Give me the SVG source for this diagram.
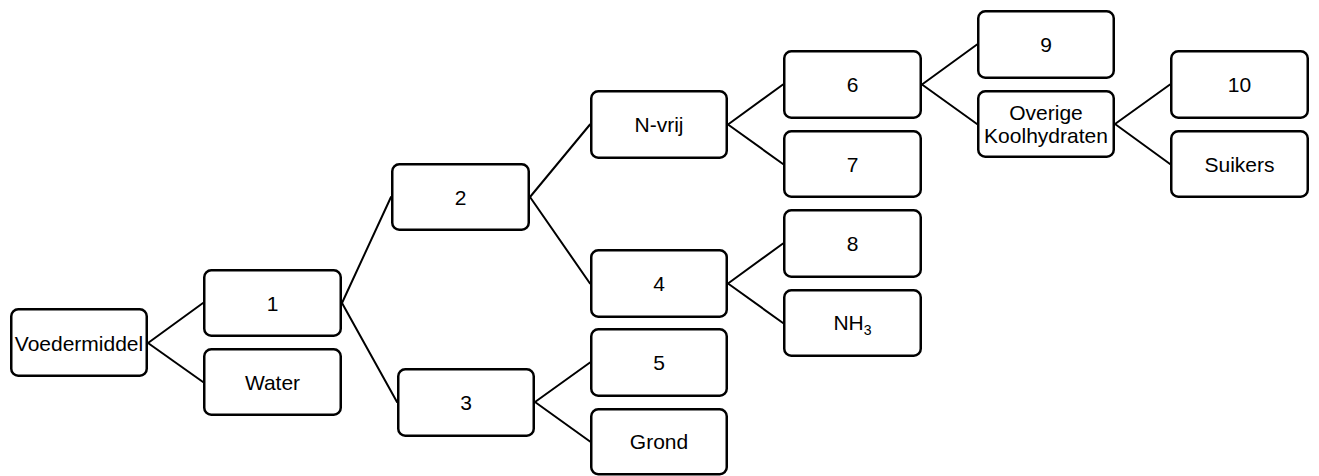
<svg xmlns="http://www.w3.org/2000/svg" width="1319" height="476" viewBox="0 0 1319 476">
  <style>
    .box rect { fill: #ffffff; stroke: #000000; stroke-width: 2.5; }
    .box text { font-family: "Liberation Sans", Arial, sans-serif; font-size: 21px; fill: #000000; text-anchor: middle; }
    #connectors line { stroke: #000000; stroke-width: 2; stroke-linecap: round; }
  </style>
  <rect x="0" y="0" width="1319" height="476" fill="#ffffff"/>

  <!-- connectors: parent right-middle to child left-middle -->
  <g id="connectors">
    <line x1="148" y1="343" x2="203" y2="303"/>
    <line x1="148" y1="343" x2="203" y2="382"/>
    <line x1="342" y1="303" x2="391" y2="197"/>
    <line x1="342" y1="303" x2="397" y2="402"/>
    <line x1="530" y1="197" x2="590" y2="124.5"/>
    <line x1="530" y1="197" x2="590" y2="283.5"/>
    <line x1="535" y1="402" x2="590" y2="362.5"/>
    <line x1="535" y1="402" x2="590" y2="441.5"/>
    <line x1="728" y1="124.5" x2="783" y2="84.5"/>
    <line x1="728" y1="124.5" x2="783" y2="164"/>
    <line x1="728" y1="283.5" x2="783" y2="243.5"/>
    <line x1="728" y1="283.5" x2="783" y2="323"/>
    <line x1="922" y1="84.5" x2="977" y2="44.5"/>
    <line x1="922" y1="84.5" x2="977" y2="124"/>
    <line x1="1115" y1="124" x2="1170" y2="84.5"/>
    <line x1="1115" y1="124" x2="1170" y2="164"/>
  </g>

  <g id="voedermiddel" class="box">
    <rect x="11.25" y="309.25" width="135.5" height="66.5" rx="7"/>
    <text x="79" y="350.5">Voedermiddel</text>
  </g>
  <g id="n1" class="box">
    <rect x="204.25" y="270.25" width="136.5" height="65.5" rx="7"/>
    <text x="272.5" y="310.5">1</text>
  </g>
  <g id="water" class="box">
    <rect x="204.25" y="349.25" width="136.5" height="65.5" rx="7"/>
    <text x="272.5" y="390">Water</text>
  </g>
  <g id="n2" class="box">
    <rect x="392.25" y="164.25" width="136.5" height="65.5" rx="7"/>
    <text x="460.5" y="204.5">2</text>
  </g>
  <g id="n3" class="box">
    <rect x="398.25" y="369.25" width="135.5" height="66.5" rx="7"/>
    <text x="466" y="409.5">3</text>
  </g>
  <g id="nvrij" class="box">
    <rect x="591.25" y="91.25" width="135.5" height="66.5" rx="7"/>
    <text x="659" y="132">N-vrij</text>
  </g>
  <g id="n4" class="box">
    <rect x="591.25" y="250.25" width="135.5" height="66.5" rx="7"/>
    <text x="659" y="291">4</text>
  </g>
  <g id="n5" class="box">
    <rect x="591.25" y="329.25" width="135.5" height="66.5" rx="7"/>
    <text x="659" y="370">5</text>
  </g>
  <g id="grond" class="box">
    <rect x="591.25" y="409.25" width="135.5" height="65" rx="7"/>
    <text x="659" y="449">Grond</text>
  </g>
  <g id="n6" class="box">
    <rect x="784.25" y="51.25" width="136.5" height="66.5" rx="7"/>
    <text x="852.5" y="92">6</text>
  </g>
  <g id="n7" class="box">
    <rect x="784.25" y="131.25" width="136.5" height="65.5" rx="7"/>
    <text x="852.5" y="171.5">7</text>
  </g>
  <g id="n8" class="box">
    <rect x="784.25" y="210.25" width="136.5" height="66.5" rx="7"/>
    <text x="852.5" y="251">8</text>
  </g>
  <g id="nh3" class="box">
    <rect x="784.25" y="290.25" width="136.5" height="65.5" rx="7"/>
    <text x="852.5" y="330">NH<tspan font-size="14" dy="5">3</tspan></text>
  </g>
  <g id="n9" class="box">
    <rect x="978.25" y="11.25" width="135.5" height="66.5" rx="7"/>
    <text x="1046" y="52">9</text>
  </g>
  <g id="overige" class="box">
    <rect x="978.25" y="91.25" width="135.5" height="65.5" rx="7"/>
    <text x="1046" y="120">Overige</text>
    <text x="1046" y="142.5">Koolhydraten</text>
  </g>
  <g id="n10" class="box">
    <rect x="1171.25" y="51.25" width="136.5" height="66.5" rx="7"/>
    <text x="1239.5" y="92">10</text>
  </g>
  <g id="suikers" class="box">
    <rect x="1171.25" y="131.25" width="136.5" height="65.5" rx="7"/>
    <text x="1239.5" y="171.5">Suikers</text>
  </g>
</svg>
